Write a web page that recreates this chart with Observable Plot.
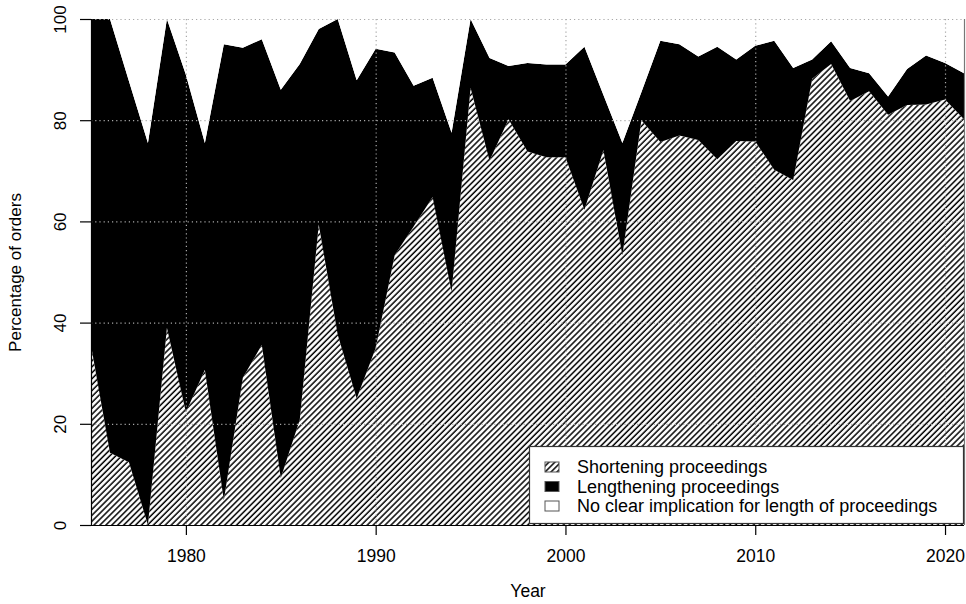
<!DOCTYPE html>
<html>
<head>
<meta charset="utf-8">
<script src="https://cdn.jsdelivr.net/npm/d3@7"></script>
<script src="https://cdn.jsdelivr.net/npm/@observablehq/plot@0.6"></script>
<style>
  html, body { margin: 0; padding: 0; background: #fff; }
</style>
</head>
<body>
<div id="chart"></div>
<script>
const years = [1975,1976,1977,1978,1979,1980,1981,1982,1983,1984,1985,1986,1987,1988,1989,1990,1991,1992,1993,1994,1995,1996,1997,1998,1999,2000,2001,2002,2003,2004,2005,2006,2007,2008,2009,2010,2011,2012,2013,2014,2015,2016,2017,2018,2019,2020,2021];
const shortening = [35.5,14.3,12.4,0,39,22.3,30.7,4.9,29.1,35.6,9.3,20.8,59.4,37.6,25,35,53.3,59,64.8,46.1,86.4,72,80.2,73.8,72.7,72.7,62.3,74.1,53.3,80,75.7,77,76.1,72.3,75.9,75.8,70.2,68.2,88.2,91.1,83.8,85.7,81.1,83,83.1,84.1,80.2];
const lengthening = [64.5,85.7,75.3,75.5,61,66.7,44.8,90.1,65.2,60.4,76.7,70.3,38.6,62.4,62.9,59.1,40.1,27.8,23.6,31.4,13.6,20.3,10.5,17.5,18.3,18.3,32.2,10.9,22.2,5.5,20,18,16.5,22.2,16.1,18.9,25.5,22.1,3.8,4.5,6.5,3.6,3.6,7.1,9.7,7.2,9.1];
const noClear = [0,0,12.3,24.5,0,11,24.5,5,5.7,4,14,8.9,2,0,12.1,5.9,6.6,13.2,11.6,22.5,0,7.7,9.3,8.7,9,9,5.5,15,24.5,14.5,4.3,5,7.4,5.5,8,5.3,4.3,9.7,8,4.4,9.7,10.7,15.3,9.9,7.2,8.7,10.7];
const categories = ["Shortening proceedings", "Lengthening proceedings", "No clear implication for length of proceedings"];
const fills = ["url(#hatch)", "#000000", "#ffffff"];
const xTicks = [1980, 1990, 2000, 2010, 2020];
const yTicks = [0, 20, 40, 60, 80, 100];

const series = [shortening, lengthening, noClear];
const rows = [];
years.forEach((yr, i) => {
  categories.forEach((c, k) => rows.push({year: yr, category: c, value: series[k][i]}));
});

const FONT = "'Liberation Sans', Arial, Helvetica, sans-serif";

const svg = Plot.plot({
  width: 966,
  height: 604,
  marginLeft: 91,
  marginRight: 2,
  marginTop: 19,
  marginBottom: 79,
  x: {domain: [1975, 2021]},
  y: {domain: [0, 100]},
  color: {domain: categories, range: fills},
  style: {fontFamily: FONT, fontSize: "17px", background: "white", color: "#000"},
  marks: [
    Plot.areaY(rows, {x: "year", y: "value", z: "category", fill: "category", order: categories, curve: "linear"}),
    Plot.gridY(yTicks.filter(d => d > 0), {stroke: "#a8a8a8", strokeOpacity: 1, strokeDasharray: "1.2,3", strokeWidth: 1.2}),
    Plot.gridX(xTicks, {stroke: "#a8a8a8", strokeOpacity: 1, strokeDasharray: "1.2,3", strokeWidth: 1.2}),
    Plot.ruleX([2021], {stroke: "#777", strokeWidth: 1.2}),
    Plot.ruleX([1975], {stroke: "#000", strokeWidth: 1.2}),
    Plot.ruleY([0], {stroke: "#000", strokeWidth: 1.2}),
    Plot.axisY({ticks: yTicks, tickSize: 11, tickFormat: () => "", label: null, strokeWidth: 1.2}),
    Plot.text(yTicks, {y: d => d, text: d => String(d), frameAnchor: "left", textAnchor: "middle", dx: -31, rotate: -90, fontSize: 17}),
    Plot.axisX({ticks: xTicks, tickSize: 10, tickPadding: 14, tickFormat: d => String(d), label: null, fontSize: 17.5, strokeWidth: 1.2}),
    Plot.text(["Percentage of orders"], {frameAnchor: "left", textAnchor: "middle", dx: -76, rotate: -90, fontSize: 17}),
    Plot.text(["Year"], {frameAnchor: "bottom", dy: 71, fontSize: 17.5})
  ]
});

// hatch pattern definition
const sel = d3.select(svg);
const defs = sel.insert("defs", ":first-child");
const pat = defs.append("pattern")
  .attr("id", "hatch")
  .attr("patternUnits", "userSpaceOnUse")
  .attr("width", 4.2)
  .attr("height", 4.2)
  .attr("patternTransform", "rotate(45)");
pat.append("rect").attr("width", 4.2).attr("height", 4.2).attr("fill", "#fff");
pat.append("line").attr("x1", 1).attr("y1", 0).attr("x2", 1).attr("y2", 4.2)
  .attr("stroke", "#000").attr("stroke-width", 1.5);

// legend (inside the plot area, bottom right)
const lg = sel.append("g").attr("font-family", FONT).attr("font-size", 18).attr("text-anchor", "start");
lg.append("rect").attr("x", 529.5).attr("y", 446.5).attr("width", 434).attr("height", 77)
  .attr("fill", "#fff").attr("stroke", "#333").attr("stroke-width", 1.2);
const rowY = [467, 486.5, 506];
categories.forEach((c, k) => {
  lg.append("rect").attr("x", 545).attr("y", rowY[k] - 5).attr("width", 14).attr("height", 10)
    .attr("fill", fills[k]).attr("stroke", "#555").attr("stroke-width", 1);
  lg.append("text").attr("x", 577).attr("y", rowY[k]).attr("dy", "0.35em").attr("text-anchor", "start").text(c);
});

document.getElementById("chart").appendChild(svg);
</script>
</body>
</html>
